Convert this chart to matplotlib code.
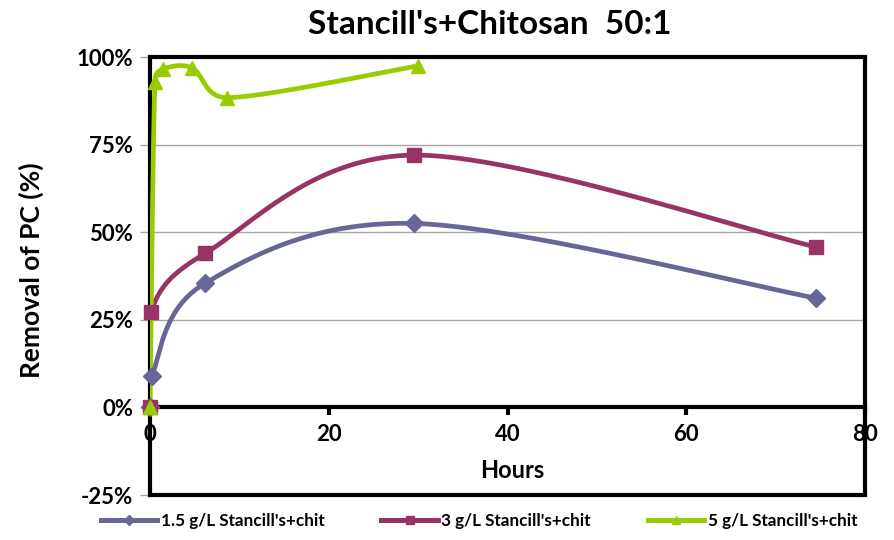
import matplotlib.pyplot as plt
import numpy as np

# sampling times (hours) and removal (%) for each dose
hours_15 = [0, 0.2, 6.2, 29.5, 74.5]
removal_15 = [0, 9.0, 35.5, 52.5, 31.2]

hours_3 = [0, 0.1, 6.2, 29.5, 74.5]
removal_3 = [0, 27.3, 44.0, 72.0, 45.8]

hours_5 = [0, 0.55, 1.4, 4.7, 8.65, 30.0]
removal_5 = [0, 92.8, 96.5, 96.9, 88.4, 97.5]

labels = ["1.5 g/L Stancill's+chit", "3 g/L Stancill's+chit", "5 g/L Stancill's+chit"]
colors = ["#666699", "#993366", "#99CC00"]
markers = ["D", "s", "^"]
msizes = [9, 10.5, 10.5]

XMAX, YMIN, YMAX = 80, -25, 100
FONT = "Lato"


def smooth(xs, ys, sx, sy, n=40):
    # cardinal bezier smoothing in screen units, arms capped so short
    # segments don't overshoot
    p = np.column_stack([np.asarray(xs, float) * sx, np.asarray(ys, float) * sy])
    pad = np.vstack([p[:1], p, p[-1:]])
    out = [p[:1]]
    t = np.linspace(0, 1, n)[1:, None]
    for i in range(len(p) - 1):
        p0, p3 = pad[i + 1], pad[i + 2]
        seg = np.linalg.norm(p3 - p0)
        a1 = (pad[i + 2] - pad[i]) / 6
        a2 = (pad[i + 3] - pad[i + 1]) / 6
        for a in (a1, a2):
            la = np.linalg.norm(a)
            if la > 0.5 * seg:
                a *= 0.5 * seg / la
        c1 = p0 + a1
        c2 = p3 - a2
        curve = ((1 - t) ** 3) * p0 + 3 * ((1 - t) ** 2) * t * c1 + 3 * (1 - t) * t ** 2 * c2 + t ** 3 * p3
        out.append(curve)
    out = np.vstack(out)
    return out[:, 0] / sx, out[:, 1] / sy


fig = plt.figure(figsize=(8.94, 5.4), dpi=100)
L, R, T, B = 150 / 894, 865 / 894, 57 / 540, 495 / 540
ax = fig.add_axes([L, 1 - B, R - L, B - T])
ax.set_xlim(0, XMAX)
ax.set_ylim(YMIN, YMAX)

sx = (R - L) * 894 / XMAX
sy = (B - T) * 540 / (YMAX - YMIN)

for xs, ys, c, m, ms, lab in zip([hours_15, hours_3, hours_5],
                                 [removal_15, removal_3, removal_5],
                                 colors, markers, msizes, labels):
    cx, cy = smooth(xs, ys, sx, sy)
    ax.plot(cx, cy, color=c, lw=3.4, solid_capstyle="round", zorder=3)
    ax.plot(xs, ys, ls="none", marker=m, color=c, ms=ms, zorder=4, clip_on=False)
    ax.plot([], [], color=c, lw=3.6, marker=m, ms=ms * 0.6, label=lab)

# frame and gridlines
for s in ax.spines.values():
    s.set_linewidth(3)
    s.set_color("black")
ax.spines["bottom"].set_position(("data", 0))
ax.axhline(YMIN, color="black", lw=3, clip_on=False, zorder=5)
for g in [25, 50, 75]:
    ax.axhline(g, color="#A6A6A6", lw=1.0, zorder=1)

ax.set_yticks([-25, 0, 25, 50, 75, 100])
ax.set_yticklabels(["-25%", "0%", "25%", "50%", "75%", "100%"])
ax.set_xticks([0, 20, 40, 60, 80])
ax.tick_params(axis="y", direction="out", length=7, width=1, color="#A6A6A6", pad=5)
ax.tick_params(axis="x", direction="out", length=6, width=3, color="black", pad=6)
for lbl in ax.get_yticklabels() + ax.get_xticklabels():
    lbl.set_fontfamily(FONT)
    lbl.set_fontweight("bold")
    lbl.set_fontsize(16)

# axis titles
fig.text(512 / 894, 1 - 471 / 540, "Hours", ha="center", va="center",
         fontfamily=FONT, fontweight="bold", fontsize=17)
fig.text(31 / 894, 1 - 270 / 540, "Removal of PC (%)", ha="center", va="center",
         rotation=90, fontfamily=FONT, fontweight="bold", fontsize=19)

fig.text(490 / 894, 1 - 24 / 540, "Stancill's+Chitosan  50:1", ha="center", va="center",
         fontfamily=FONT, fontweight="bold", fontsize=24)

fig.legend(loc="center", bbox_to_anchor=(479 / 894, 1 - 521 / 540), ncol=3, frameon=False,
           numpoints=1, handlelength=3.3, handletextpad=0.2, columnspacing=3.35,
           prop={"family": FONT, "weight": "bold", "size": 12.3})

fig.savefig("out.png", dpi=100)
